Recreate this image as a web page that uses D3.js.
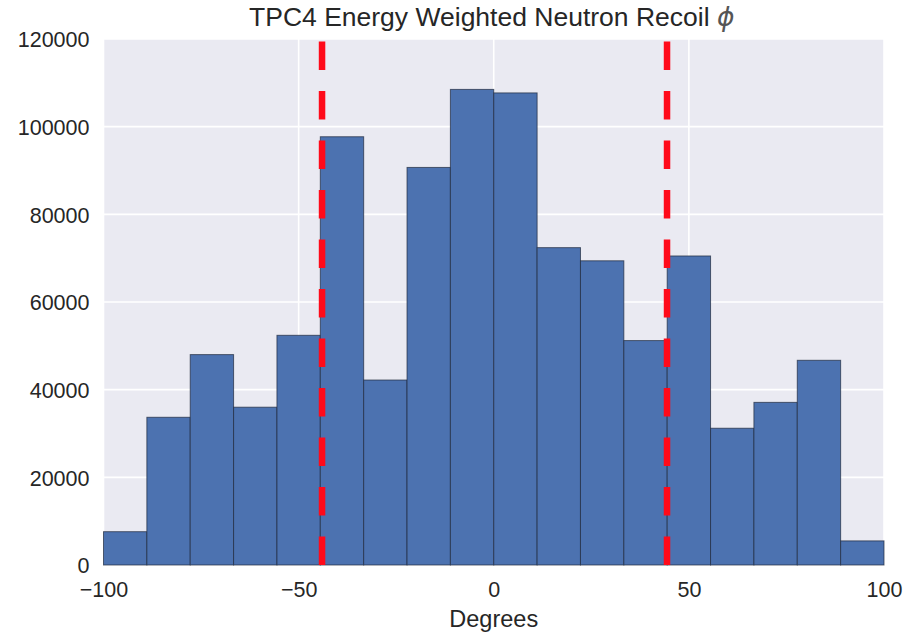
<!DOCTYPE html>
<html>
<head>
<meta charset="utf-8">
<script src="https://cdn.jsdelivr.net/npm/d3@7"></script>
<style>
  html, body { margin: 0; padding: 0; background: #ffffff; }
  svg { display: block; }
  text { font-family: "Liberation Sans", Arial, Helvetica, sans-serif; fill: #262626; }
</style>
</head>
<body>
<svg id="chart" width="918" height="636"></svg>
<script>
// Histogram bin edges (18 equal bins from -100 to 100 degrees)
const binStart = -100;
const binEnd = 100;
const binCount = 18;

// Energy-weighted counts per bin
const binValues = [
  7600, 33700, 48000, 36000, 52400, 97700, 42200, 90700, 108500,
  107700, 72400, 69400, 51200, 70500, 31200, 37100, 46700, 5500
];

// Acceptance cut positions (degrees)
const cutLines = [-44, 44.4];

// Axis ticks
const xTicks = [-100, -50, 0, 50, 100];
const yTicks = [0, 20000, 40000, 60000, 80000, 100000, 120000];

const titleText = "TPC4 Energy Weighted Neutron Recoil ";
const titleSymbol = "\u03D5";
const xLabel = "Degrees";

const svg = d3.select("#chart");
const margin = { left: 103.5, right: 34, top: 39, bottom: 71 };
const width = 918, height = 636;
const plotW = width - margin.left - margin.right;
const plotH = height - margin.top - margin.bottom;

const x = d3.scaleLinear().domain([-100, 100]).range([0, plotW]);
const y = d3.scaleLinear().domain([0, 120000]).range([plotH, 0]);

const g = svg.append("g").attr("transform", `translate(${margin.left},${margin.top})`);

// Background panel
g.append("rect")
  .attr("width", plotW).attr("height", plotH)
  .attr("fill", "#eaeaf2");

// Gridlines
g.append("g").selectAll("line").data(yTicks).join("line")
  .attr("x1", 0).attr("x2", plotW)
  .attr("y1", d => y(d)).attr("y2", d => y(d))
  .attr("stroke", "#ffffff").attr("stroke-width", 1.6);
g.append("g").selectAll("line").data(xTicks).join("line")
  .attr("y1", 0).attr("y2", plotH)
  .attr("x1", d => x(d)).attr("x2", d => x(d))
  .attr("stroke", "#ffffff").attr("stroke-width", 1.6);

// Bars
const binW = (binEnd - binStart) / binCount;
const bins = binValues.map((v, i) => ({ x0: binStart + i * binW, x1: binStart + (i + 1) * binW, v }));
g.append("g").selectAll("rect").data(bins).join("rect")
  .attr("x", d => x(d.x0))
  .attr("width", d => x(d.x1) - x(d.x0))
  .attr("y", d => y(d.v))
  .attr("height", d => y(0) - y(d.v))
  .attr("fill", "#4c72b0")
  .attr("stroke", "#1f2a3d")
  .attr("stroke-opacity", 0.7)
  .attr("stroke-width", 1);

// Dashed cut lines, dashes starting from the bottom
g.append("g").selectAll("line").data(cutLines).join("line")
  .attr("x1", d => x(d)).attr("x2", d => x(d))
  .attr("y1", plotH).attr("y2", 0)
  .attr("stroke", "#ff0a1a")
  .attr("stroke-width", 6.5)
  .attr("stroke-dasharray", "28.5,21");

// Y axis labels
const yAxis = d3.axisLeft(y).tickValues(yTicks).tickSize(0).tickPadding(14)
  .tickFormat(d3.format("d"));
g.append("g").call(yAxis)
  .call(s => s.select(".domain").remove())
  .call(s => s.selectAll("text")
    .style("font-size", "21.5px")
    .attr("fill", "#262626")
    .attr("dy", "0.36em"));

// X axis labels
const xAxis = d3.axisBottom(x).tickValues(xTicks).tickSize(0).tickPadding(17)
  .tickFormat(d => d < 0 ? "\u2212" + Math.abs(d) : String(d));
g.append("g").attr("transform", `translate(0,${plotH})`).call(xAxis)
  .call(s => s.select(".domain").remove())
  .call(s => s.selectAll("text")
    .style("font-size", "21.5px")
    .attr("fill", "#262626"));

// Axis label
svg.append("text")
  .attr("x", margin.left + plotW / 2)
  .attr("y", 627)
  .attr("text-anchor", "middle")
  .style("font-size", "23.5px")
  .text(xLabel);

// Title
const title = svg.append("text")
  .attr("x", margin.left + plotW / 2 - 2)
  .attr("y", 26)
  .attr("text-anchor", "middle")
  .style("font-size", "26.5px");
title.append("tspan").text(titleText);
title.append("tspan")
  .style("font-family", "'DejaVu Sans', sans-serif")
  .style("font-style", "italic")
  .style("font-weight", "300")
  .attr("fill", "#555")
  .text(titleSymbol);
</script>
</body>
</html>
